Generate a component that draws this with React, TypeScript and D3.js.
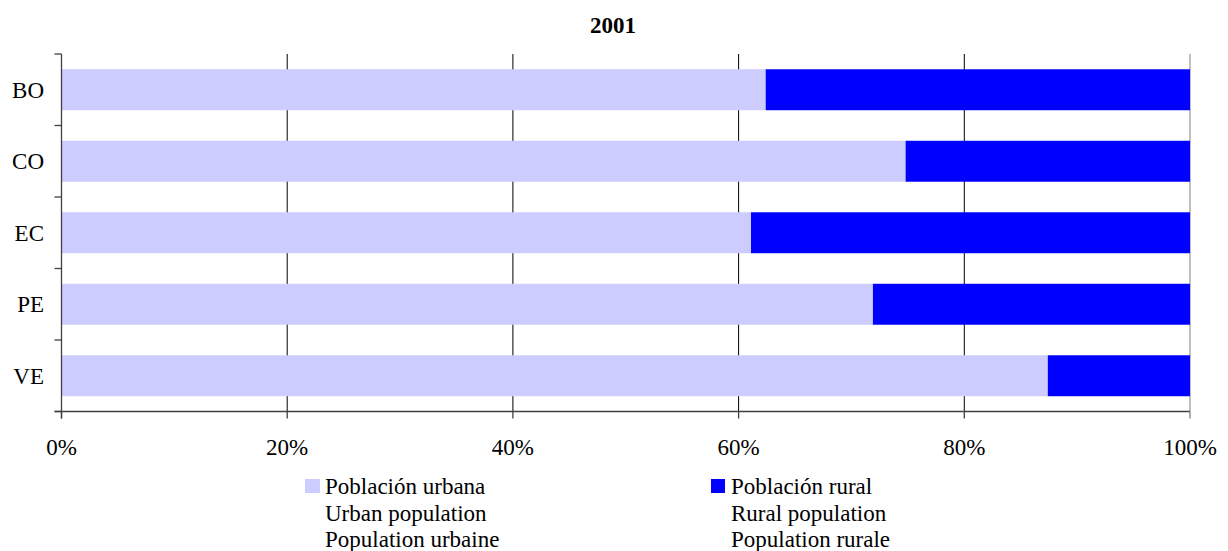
import React from "react";
import * as d3 from "d3";

const title = "2001";
const categories = ["BO", "CO", "EC", "PE", "VE"];
const urbanShare = [62.4, 74.8, 61.1, 71.9, 87.4];
const ruralShare = [37.6, 25.2, 38.9, 28.1, 12.6];
const xTicks = [0, 20, 40, 60, 80, 100];
const legendUrban = ["Población urbana", "Urban population", "Population urbaine"];
const legendRural = ["Población rural", "Rural population", "Population rurale"];

const URBAN_COLOR = "#CCCCFF";
const RURAL_COLOR = "#0000FF";
const FONT = "'Liberation Serif', 'Times New Roman', serif";

export default function App() {
  const W = 1228;
  const H = 551;
  const left = 61.5;
  const right = 1190;
  const top = 54;
  const bottom = 411.5;

  const x = d3.scaleLinear().domain([0, 100]).range([left, right]);
  const y = d3
    .scaleBand<string>()
    .domain(categories)
    .range([top, bottom])
    .paddingInner(0.427)
    .paddingOuter(0.2135);
  const step = y.step();
  const boundaries = d3.range(categories.length + 1).map((i) => top + i * step);

  const rows = categories.map((c, i) => ({ c, u: urbanShare[i], r: ruralShare[i] }));

  return (
    <svg
      width={W}
      height={H}
      style={{ position: "absolute", left: 0, top: 0, background: "#fff" }}
      fontFamily={FONT}
    >
      <text x={613} y={33} textAnchor="middle" fontWeight="bold" fontSize={23}>
        {title}
      </text>

      {/* gridlines */}
      {xTicks.slice(1).map((t) => (
        <line
          key={"g" + t}
          x1={x(t)}
          x2={x(t)}
          y1={top}
          y2={bottom}
          stroke={t === 100 ? "#808080" : "#000"}
          strokeWidth={1}
        />
      ))}

      {/* bars */}
      {rows.map((d) => (
        <g key={d.c}>
          <rect
            x={x(0)}
            y={y(d.c)}
            width={x(d.u) - x(0)}
            height={y.bandwidth()}
            fill={URBAN_COLOR}
          />
          <rect
            x={x(d.u)}
            y={y(d.c)}
            width={x(d.u + d.r) - x(d.u)}
            height={y.bandwidth()}
            fill={RURAL_COLOR}
          />
        </g>
      ))}

      {/* y axis */}
      <line x1={left} x2={left} y1={top} y2={bottom + 7} stroke="#404040" strokeWidth={1.3} />
      {boundaries.map((b, i) => (
        <line key={"yt" + i} x1={left - 7} x2={left} y1={b} y2={b} stroke="#404040" strokeWidth={1.3} />
      ))}
      {categories.map((c) => (
        <text
          key={"yl" + c}
          x={44}
          y={(y(c) as number) + y.bandwidth() / 2}
          dy="0.35em"
          textAnchor="end"
          fontSize={23}
        >
          {c}
        </text>
      ))}

      {/* x axis */}
      <line x1={left - 7} x2={right} y1={bottom} y2={bottom} stroke="#404040" strokeWidth={1.3} />
      {xTicks.map((t) => (
        <g key={"xt" + t}>
          <line x1={x(t)} x2={x(t)} y1={bottom} y2={bottom + 7} stroke={t === 100 ? "#808080" : "#404040"} strokeWidth={1.3} />
          <text x={x(t)} y={455} textAnchor="middle" fontSize={23}>
            {t + "%"}
          </text>
        </g>
      ))}

      {/* legend */}
      <rect x={305} y={479} width={15} height={14} fill={URBAN_COLOR} />
      {legendUrban.map((s, i) => (
        <text key={"lu" + i} x={325} y={494 + i * 26.5} fontSize={23}>
          {s}
        </text>
      ))}
      <rect x={711} y={479} width={14} height={14} fill={RURAL_COLOR} />
      {legendRural.map((s, i) => (
        <text key={"lr" + i} x={731} y={494 + i * 26.5} fontSize={23}>
          {s}
        </text>
      ))}
    </svg>
  );
}
